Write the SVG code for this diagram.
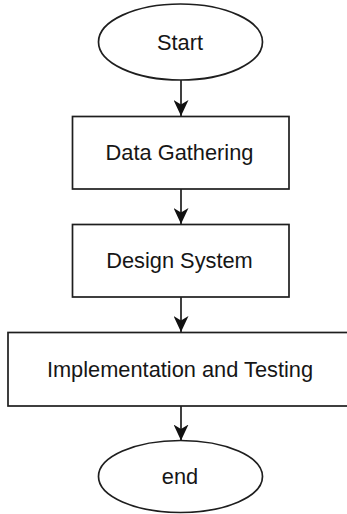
<svg xmlns="http://www.w3.org/2000/svg" width="347" height="514" viewBox="0 0 347 514">
  <style>
    .shape { fill: #ffffff; stroke: #1e1e1e; stroke-width: 1.7; }
    .label { font-family: "Liberation Sans", Arial, sans-serif; font-size: 21.8px; fill: #161616; text-anchor: middle; dominant-baseline: central; }
    .edge { stroke: #1e1e1e; stroke-width: 1.7; fill: none; marker-end: url(#arrow); }
  </style>
  <defs>
    <marker id="arrow" viewBox="0 0 16 15" refX="16" refY="7.5" markerWidth="16" markerHeight="15" markerUnits="userSpaceOnUse" orient="auto">
      <path d="M0,0 L16,7.5 L0,15 L4.5,7.5 Z" fill="#111111"/>
    </marker>
  </defs>
  <rect width="347" height="514" fill="#ffffff"/>

  <g id="connectors">
    <line class="edge" x1="181" y1="80" x2="181" y2="116"/>
    <line class="edge" x1="181" y1="189" x2="181" y2="224"/>
    <line class="edge" x1="181" y1="297" x2="181" y2="332"/>
    <line class="edge" x1="181" y1="406" x2="181" y2="440.5"/>
  </g>

  <g id="start">
    <ellipse class="shape" cx="180.5" cy="42" rx="82" ry="38"/>
    <text class="label" x="180" y="42">Start</text>
  </g>

  <g id="data-gathering">
    <rect class="shape" x="72.5" y="116.5" width="216.5" height="72.5"/>
    <text class="label" x="179.5" y="152.5">Data Gathering</text>
  </g>

  <g id="design-system">
    <rect class="shape" x="72.5" y="224.5" width="216.5" height="72.5"/>
    <text class="label" x="179.5" y="260.5">Design System</text>
  </g>

  <g id="implementation-testing">
    <rect class="shape" x="8" y="332.5" width="346" height="73.5"/>
    <text class="label" x="180" y="369">Implementation and Testing</text>
  </g>

  <g id="end">
    <ellipse class="shape" cx="180.5" cy="476.5" rx="82" ry="36"/>
    <text class="label" x="180" y="476.5">end</text>
  </g>
</svg>
